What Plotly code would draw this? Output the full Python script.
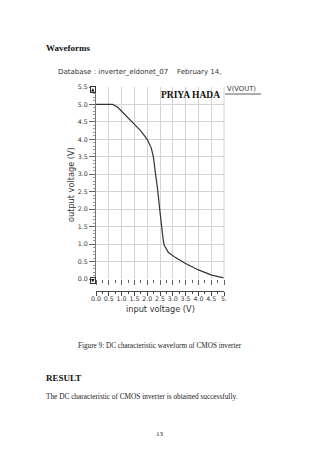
import plotly.graph_objects as go

# Data (DC transfer characteristic of CMOS inverter)
vin = [0.0, 0.3, 0.65, 0.85, 1.07, 1.43, 1.74, 2.0, 2.16, 2.24, 2.34, 2.41,
       2.5, 2.56, 2.62, 2.66, 2.75, 2.83, 3.09, 3.48, 4.0, 4.52, 5.0]
vout = [5.0, 5.0, 5.0, 4.92, 4.75, 4.5, 4.25, 4.0, 3.75, 3.5, 3.0, 2.54,
        1.92, 1.45, 1.15, 0.97, 0.85, 0.76, 0.62, 0.45, 0.26, 0.11, 0.03]

x_tickvals = [0.0, 0.5, 1.0, 1.5, 2.0, 2.5, 3.0, 3.5, 4.0, 4.5, 5.0]
x_ticktext = ["0.0", "0.5", "1.0", "1.5", "2.0", "2.5", "3.0", "3.5", "4.0", "4.5", "5."]

OFF = 8  # browser body margin
W, H = 320 - OFF, 463 - OFF
L, R, T, B = 96, 224, 87, 291  # page pixel bounds of paper area
PLOT_BOTTOM = 279


def px(x):
    return (x - L) / (R - L)


def py(y):
    return (B - y) / (B - T)


SANS = "DejaVu Sans"
SERIF = "Liberation Serif"

fig = go.Figure()
fig.add_trace(go.Scatter(x=vin, y=vout, mode="lines",
                         line=dict(color="#333333", width=1.2),
                         showlegend=False, hoverinfo="skip"))
fig.add_trace(go.Scatter(x=[0, 5], y=[None, None], xaxis="x2", mode="lines",
                         showlegend=False, hoverinfo="skip"))

grid = "#d4d4d4"
tickc = "#666666"

fig.update_layout(
    width=W, height=H,
    paper_bgcolor="white", plot_bgcolor="white",
    margin=dict(l=L - OFF, r=(320 - R), t=T - OFF, b=(463 - B), pad=0),
    xaxis=dict(range=[0, 5], domain=[0, 1], anchor="y",
               tickvals=x_tickvals, showticklabels=False,
               ticks="outside", ticklen=5, tickcolor=tickc, tickwidth=1,
               minor=dict(dtick=0.25, tick0=0, ticks="outside", ticklen=3,
                          tickcolor=tickc, showgrid=False),
               showgrid=True, gridcolor=grid, gridwidth=1,
               zeroline=False, showline=False),
    xaxis2=dict(range=[0, 5], overlaying="x", anchor="free", position=0,
                side="bottom",
                tickvals=x_tickvals, ticktext=x_ticktext,
                ticks="outside", ticklen=4, tickcolor="#444444", tickwidth=1,
                ticklabelstandoff=-3,
                minor=dict(dtick=0.25, tick0=0, ticks="outside", ticklen=2,
                           tickcolor="#444444", showgrid=False),
                showgrid=False, zeroline=False,
                showline=True, linecolor="#444444", linewidth=1,
                tickfont=dict(family=SANS, size=6.3, color="#333333")),
    yaxis=dict(range=[0, 5.5], domain=[(B - PLOT_BOTTOM) / (B - T), 1],
               dtick=0.5, tick0=0, tickformat=".1f",
               ticks="outside", ticklen=6, tickcolor=tickc, tickwidth=1,
               minor=dict(dtick=0.1, ticks="outside", ticklen=2,
                          tickcolor="#999999", showgrid=False),
               showgrid=True, gridcolor=grid, gridwidth=1,
               zeroline=False, showline=True, linecolor="#777777", linewidth=1,
               tickfont=dict(family=SANS, size=6.3, color="#333333")),
)

fig.add_shape(type="line", xref="paper", yref="y", x0=1, x1=1, y0=0, y1=5.5,
              line=dict(color=grid, width=1))

ann = []


def text(x, y, s, size, family=SANS, xanchor="left", yanchor="middle",
         color="#222222", angle=0):
    ann.append(dict(x=x, y=y, xref="paper", yref="paper", text=s,
                    showarrow=False, xanchor=xanchor, yanchor=yanchor,
                    textangle=angle,
                    font=dict(family=family, size=size, color=color)))


text(px(44), py(48), "<b>Waveforms</b>", 9, SERIF, color="#111111")
text(px(56), py(72), "Database : inverter_eldonet_07&nbsp;&nbsp;&nbsp;&nbsp;February 14,",
     7.0, SANS, color="#333333")
text(px(222), py(95), "<b>PRIYA HADA</b>", 9.5, SERIF, xanchor="right", color="#111111")
text(px(225), py(89), "V(VOUT)", 6.8, SANS, color="#333333")
text(px(71), py(185), "output voltage (V)", 8.2, SANS, xanchor="center",
     color="#333333", angle=-90)
text(px(160), py(309), "input voltage (V)", 8.2, SANS, xanchor="center", color="#333333")
text(px(160), py(346), "Figure 9: DC characteristic waveform of CMOS inverter", 7.2,
     SERIF, xanchor="center", color="#222222")
text(px(44), py(378), "<b>RESULT</b>", 9, SERIF, color="#111111")
text(px(44), py(396), "The DC characteristic of CMOS inverter is obtained successfully.",
     7.3, SERIF, color="#222222")
text(px(160), py(434), "13", 7.0, SERIF, xanchor="center", color="#222222")

for cy, sym in ((89.5, "▲"), (280.5, "▼")):
    ann.append(dict(x=px(92.5), y=py(cy), xref="paper", yref="paper", text=sym,
                    showarrow=False, xanchor="center", yanchor="middle",
                    bordercolor="#333333", borderwidth=1, borderpad=0,
                    bgcolor="white",
                    font=dict(family=SANS, size=4.5, color="#111111")))

fig.update_layout(annotations=ann)

fig.add_shape(type="line", xref="paper", yref="paper",
              x0=px(225), x1=px(261), y0=py(94), y1=py(94),
              line=dict(color="#333333", width=0.8))

fig.write_html("out.html")
